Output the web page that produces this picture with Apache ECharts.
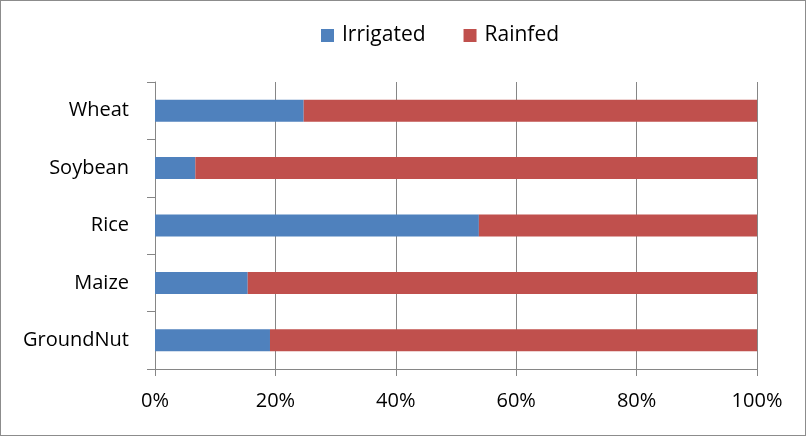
<!DOCTYPE html>
<html>
<head>
<meta charset="utf-8">
<script src="https://cdn.jsdelivr.net/npm/echarts@6/dist/echarts.min.js"></script>
<style>
    html, body { margin: 0; padding: 0; background: #fff; }
    #chart { width: 806px; height: 436px; box-sizing: border-box; border: 1px solid #8c8c8c; }
</style>
</head>
<body>
<div id="chart"></div>
<script>
// crops, bottom to top as drawn
var categories = ["GroundNut", "Maize", "Rice", "Soybean", "Wheat"];
var irrigated = [19.1, 15.4, 53.8, 6.7, 24.7];
var rainfed = [80.9, 84.6, 46.2, 93.3, 75.3];
var legendNames = ["Irrigated", "Rainfed"];
var xTicks = [0, 20, 40, 60, 80, 100];

var font = "'Open Sans', 'Noto Sans', sans-serif";
var myChart = echarts.init(document.getElementById("chart"));

var option = {
    animation: false,
    color: ["#4f81bd", "#c0504d"],
    grid: {
        left: 154,
        right: 48,
        top: 81,
        bottom: 66,
        containLabel: false
    },
    legend: {
        top: 24,
        left: 320,
        padding: 0,
        itemWidth: 13,
        itemHeight: 13,
        itemGap: 38,
        icon: "rect",
        textStyle: {
            fontFamily: font,
            fontSize: 21,
            color: "#000",
            padding: [0, 0, 0, 3]
        },
        data: legendNames
    },
    xAxis: {
        type: "value",
        min: xTicks[0],
        max: xTicks[xTicks.length - 1],
        interval: 20,
        axisLine: { show: true, lineStyle: { color: "#868686", width: 1 } },
        axisTick: { show: true, length: 7, lineStyle: { color: "#868686" } },
        axisLabel: {
            margin: 22,
            fontFamily: font,
            fontSize: 20,
            color: "#000",
            formatter: function (v) {
                return v + "%";
            }
        },
        splitLine: { show: true, lineStyle: { color: "#868686", width: 1 } }
    },
    yAxis: {
        type: "category",
        data: categories,
        axisLine: { show: true, lineStyle: { color: "#868686", width: 1 } },
        axisTick: { show: true, length: 8, lineStyle: { color: "#868686" } },
        axisLabel: {
            margin: 26,
            fontFamily: font,
            fontSize: 20,
            color: "#000"
        },
        splitLine: { show: false }
    },
    series: [
        {
            name: legendNames[0],
            type: "bar",
            stack: "total",
            barWidth: 22,
            data: irrigated
        },
        {
            name: legendNames[1],
            type: "bar",
            stack: "total",
            barWidth: 22,
            data: rainfed
        }
    ]
};
myChart.setOption(option, true);
</script>
</body>
</html>
